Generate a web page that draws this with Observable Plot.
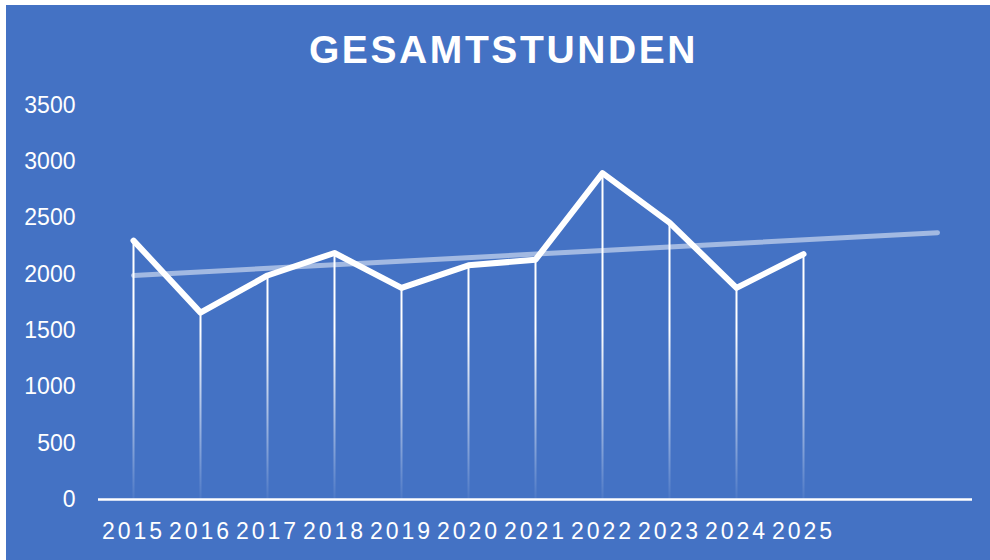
<!DOCTYPE html>
<html>
<head>
<meta charset="utf-8">
<script src="https://cdn.jsdelivr.net/npm/d3@7"></script>
<script src="https://cdn.jsdelivr.net/npm/@observablehq/plot@0.6"></script>
<style>
  html, body { margin: 0; padding: 0; background: #ffffff; }
  #box { position: absolute; left: 6px; top: 5px; width: 990px; height: 560px; background: #4472C4; overflow: hidden; }
  #title { box-sizing: border-box; width: 984px; height: 80px; padding-top: 25px; padding-left: 11px;
    text-align: center; color: #ffffff; font-family: "Liberation Sans", Arial, sans-serif; font-weight: bold;
    font-size: 39px; line-height: 1; letter-spacing: 2.6px; }
  #chart svg { display: block; }
  #chart [aria-label="x-axis tick label"], #chart [aria-label="x-axis tick label"] text { font-size: 23px !important; letter-spacing: 3px; }
  #chart [aria-label="y-axis tick label"], #chart [aria-label="y-axis tick label"] text { font-size: 23px !important; }
</style>
</head>
<body>
<div id="box">
  <div id="title">GESAMTSTUNDEN</div>
  <div id="chart"></div>
</div>
<script>
const years = [2015, 2016, 2017, 2018, 2019, 2020, 2021, 2022, 2023, 2024, 2025];
const hours = [2300, 1660, 1990, 2190, 1880, 2080, 2130, 2900, 2460, 1880, 2180];
const axisYears = [2015, 2016, 2017, 2018, 2019, 2020, 2021, 2022, 2023, 2024, 2025, 2026, 2027];
const trendYears = [2015, 2027];
const trendValues = [1990, 2370];
const yTicks = [0, 500, 1000, 1500, 2000, 2500, 3000, 3500];

const data = years.map((year, i) => ({year, value: hours[i]}));
const trend = trendYears.map((year, i) => ({year, value: trendValues[i]}));

const chart = Plot.plot({
  width: 984,
  height: 475,
  marginLeft: 92,
  marginRight: 18,
  marginTop: 20,
  marginBottom: 61,
  style: {background: "transparent", color: "white", fontFamily: "'Liberation Sans', Arial, sans-serif", overflow: "visible"},
  x: {type: "point", domain: axisYears, padding: 0.5, label: null},
  y: {domain: [0, 3500], label: null},
  marks: [
    Plot.axisY({ticks: yTicks, tickSize: 0, tickPadding: 23, fontSize: 23, tickFormat: d => String(d), label: null}),
    Plot.axisX({ticks: years, tickSize: 0, tickPadding: 23, fontSize: 23, tickFormat: d => String(d), label: null}),
    Plot.ruleX(data, {x: "year", y1: 0, y2: "value", stroke: "url(#fade)", strokeWidth: 2}),
    Plot.ruleY([0], {stroke: "white", strokeWidth: 2.5}),
    Plot.line(trend, {x: "year", y: "value", stroke: "white", strokeOpacity: 0.5, strokeWidth: 5, strokeLinecap: "round"}),
    Plot.line(data, {x: "year", y: "value", stroke: "white", strokeWidth: 6, strokeLinejoin: "round", strokeLinecap: "round"})
  ]
});

const ys = chart.scale("y");
const ns = "http://www.w3.org/2000/svg";
const defs = document.createElementNS(ns, "defs");
const grad = document.createElementNS(ns, "linearGradient");
grad.setAttribute("id", "fade");
grad.setAttribute("gradientUnits", "userSpaceOnUse");
grad.setAttribute("x1", 0); grad.setAttribute("x2", 0);
grad.setAttribute("y1", ys.apply(1500));
grad.setAttribute("y2", ys.apply(0));
[[0, 1], [1, 0.05]].forEach(([o, a]) => {
  const s = document.createElementNS(ns, "stop");
  s.setAttribute("offset", o);
  s.setAttribute("stop-color", "#ffffff");
  s.setAttribute("stop-opacity", a);
  grad.appendChild(s);
});
defs.appendChild(grad);
chart.insertBefore(defs, chart.firstChild);

document.getElementById("chart").appendChild(chart);
</script>
</body>
</html>
